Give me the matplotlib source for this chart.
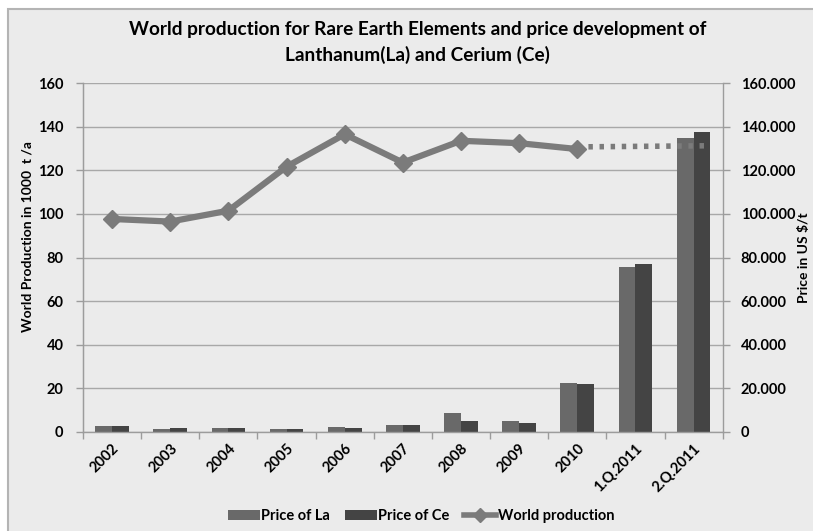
import matplotlib
matplotlib.use("Agg")
import matplotlib.pyplot as plt
import matplotlib.ticker as mticker
from matplotlib.patches import Rectangle, Patch
from matplotlib.lines import Line2D
import numpy as np

plt.rcParams['font.family'] = ['Lato', 'DejaVu Sans']
plt.rcParams['font.weight'] = 'bold'

# Data
categories = ["2002", "2003", "2004", "2005", "2006", "2007", "2008", "2009",
              "2010", "1.Q.2011", "2.Q.2011"]
price_la = [2450, 1200, 1800, 1400, 2300, 3300, 8800, 4900, 22400, 75600, 134700]
price_ce = [2450, 1800, 1800, 1400, 1600, 3000, 4900, 4000, 21700, 77100, 137700]
world_production = [97.7, 96.5, 101.5, 121.7, 136.6, 123.6, 133.6, 132.5, 129.8]
# projected production beyond 2010 (dotted)
projection_cats = ["2010", "2.Q.2011"]
projection_vals = [130.8, 131.3]

left_ticks = [0, 20, 40, 60, 80, 100, 120, 140, 160]

c_bg = "#ebebeb"
c_la = "#696969"
c_ce = "#444444"
c_line = "#7b7b7b"
c_axis = "#9c9c9c"
c_grid = "#a8a8a8"

W, H = 813, 531
fig = plt.figure(figsize=(W / 100, H / 100), dpi=100, facecolor="white")

# chart frame
fig.patches.append(Rectangle((8 / W, -0.02), 1.0, 1 - 9 / H + 0.02,
                             transform=fig.transFigure, facecolor=c_bg,
                             edgecolor="#b4b4b4", linewidth=1.5, zorder=-10))

left, right, top, bottom = 83 / W, 722.7 / W, 83.3 / H, 431.7 / H
ax = fig.add_axes([left, 1 - bottom, right - left, bottom - top])
ax2 = ax.twinx()
ax.set_facecolor("none")
ax.set_zorder(1)
ax2.set_zorder(2)
ax2.set_facecolor("none")

# price bars (right axis)
x = np.arange(len(categories))
bw = 0.29
ax.bar(x - bw / 2, price_la, width=bw, color=c_la, zorder=2)
ax.bar(x + bw / 2, price_ce, width=bw, color=c_ce, zorder=2)
ax.set_xlim(-0.5, len(categories) - 0.5)
ax.set_ylim(0, 160000)
ax.set_yticks([v * 1000 for v in left_ticks])
ax.yaxis.grid(True, color=c_grid, linewidth=1.0, zorder=0)
ax.set_axisbelow(True)
ax.yaxis.tick_right()
ax.yaxis.set_label_position("right")
ax.yaxis.set_major_formatter(mticker.FuncFormatter(
    lambda v, p: "0" if v == 0 else f"{int(v):,}".replace(",", ".")))
ax.tick_params(axis="y", direction="out", length=5, width=1, color=c_axis,
               pad=8, labelsize=10.5)
ax.set_ylabel("Price in US $/t", fontsize=10, fontweight="bold")
ax.yaxis.set_label_coords(1.117, 0.50)

# x axis: labels at category centres, tick marks at boundaries
ax.set_xticks(x)
ax.set_xticklabels(categories, rotation=45, ha="right", rotation_mode="anchor",
                   fontsize=10.5, fontweight="bold")
ax.tick_params(axis="x", which="major", length=0, pad=7)
ax.set_xticks(np.arange(-0.5, len(categories) + 0.5, 1.0), minor=True)
ax.tick_params(axis="x", which="minor", direction="out", length=5, width=1,
               color=c_axis)

ax.spines["top"].set_visible(False)
for s in ["left", "right", "bottom"]:
    ax.spines[s].set_color(c_axis)
    ax.spines[s].set_linewidth(1.0)

# production line (left axis), drawn over the bars
ax2.set_ylim(0, 160)
ax2.set_yticks(left_ticks)
ax2.yaxis.tick_left()
ax2.yaxis.set_label_position("left")
ax2.tick_params(axis="y", direction="out", length=5, width=1, color=c_axis,
                pad=9, labelsize=10.5)
ax2.set_ylabel("World Production in 1000  t /a", fontsize=10,
               fontweight="bold")
ax2.yaxis.set_label_coords(-0.077, 0.56)
for s in ["top", "right", "bottom"]:
    ax2.spines[s].set_visible(False)
ax2.spines["left"].set_color(c_axis)

prod_x = [categories.index(c) for c in categories[:len(world_production)]]
ax2.plot(prod_x, world_production, color=c_line, linewidth=4.5,
         marker="D", markersize=9, zorder=4, solid_joinstyle="round")
proj_x = [categories.index(c) for c in projection_cats]
proj_x[-1] += bw * 0.7
ax2.plot(proj_x, projection_vals, color=c_line, linewidth=4,
         linestyle=(0, (0.8, 1.2)), zorder=3)

fig.text(0.514, 1 - 30 / H,
         "World production for Rare Earth Elements and price development of",
         ha="center", va="center", fontsize=13.7, fontweight="bold")
fig.text(0.514, 1 - 55 / H, "Lanthanum(La) and Cerium (Ce)",
         ha="center", va="center", fontsize=13.7, fontweight="bold")

handles = [Patch(facecolor=c_la, label="Price of La"),
           Patch(facecolor=c_ce, label="Price of Ce"),
           Line2D([], [], color=c_line, linewidth=4, marker="D", markersize=7,
                  label="World production")]
fig.legend(handles=handles, loc="center", bbox_to_anchor=(0.518, 1 - 516 / H),
           ncol=3, frameon=False, handlelength=2.2,
           handletextpad=0.1, columnspacing=1.0,
           prop={"weight": "bold", "size": 10.5})

fig.savefig("out.png", dpi=100, facecolor="white")
